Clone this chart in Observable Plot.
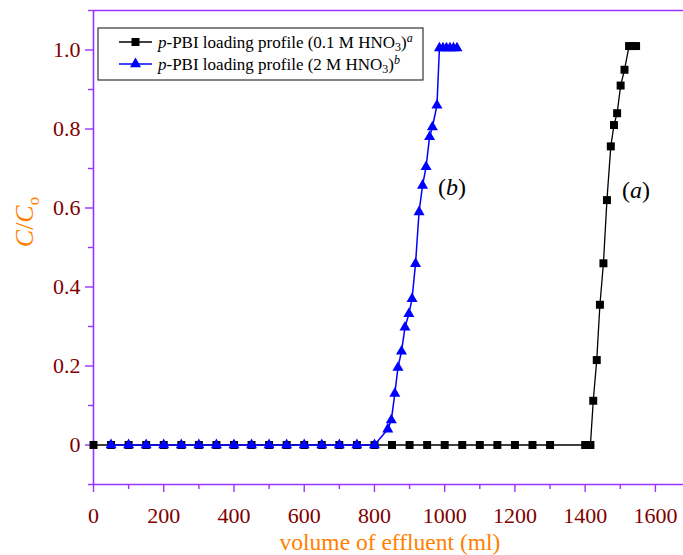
<!DOCTYPE html>
<html>
<head>
<meta charset="utf-8">
<script src="https://cdn.jsdelivr.net/npm/d3@7"></script>
<script src="https://cdn.jsdelivr.net/npm/@observablehq/plot@0.6"></script>
<style>
  body { margin: 0; background: #fff; }
  #chart { position: relative; width: 683px; height: 555px; }
</style>
</head>
<body>
<div id="chart"></div>
<script>
// ---- Data ----
// Series (a): p-PBI loading profile (0.1 M HNO3) – black squares
const seriesA_x = [0, 50, 100, 150, 200, 250, 300, 350, 400, 450, 500, 550, 600, 650, 700, 750, 800,
  850, 900, 950, 1000, 1050, 1100, 1150, 1200, 1250, 1300, 1400, 1415,
  1423, 1433, 1442, 1452, 1462, 1473, 1482, 1491, 1501, 1512, 1525, 1535, 1545];
const seriesA_y = [0, 0, 0, 0, 0, 0, 0, 0, 0, 0, 0, 0, 0, 0, 0, 0, 0,
  0, 0, 0, 0, 0, 0, 0, 0, 0, 0, 0, 0,
  0.112, 0.215, 0.355, 0.46, 0.62, 0.756, 0.81, 0.84, 0.91, 0.95, 1.01, 1.01, 1.01];

// Series (b): p-PBI loading profile (2 M HNO3) – blue triangles
const seriesB_x = [50, 100, 150, 200, 250, 300, 350, 400, 450, 500, 550, 600, 650, 700, 750, 800,
  838, 848, 858, 867, 877, 887, 898, 907, 917, 927, 937, 947, 957, 965, 978,
  985, 995, 1005, 1015, 1025, 1035];
const seriesB_y = [0, 0, 0, 0, 0, 0, 0, 0, 0, 0, 0, 0, 0, 0, 0, 0,
  0.04, 0.063, 0.13, 0.196, 0.237, 0.298, 0.332, 0.37, 0.459, 0.59, 0.657, 0.704, 0.78, 0.805, 0.86,
  1.005, 1.005, 1.005, 1.005, 1.005, 1.005];

const legendLabels = ["0.1 M HNO", "2 M HNO"];
const legendSup = ["a", "b"];
const annotLabels = ["a", "b"];
const annotX = [1546, 1022];
const annotY = [0.645, 0.652];

const xMajorTicks = [0, 200, 400, 600, 800, 1000, 1200, 1400, 1600];
const xMinorTicks = [100, 300, 500, 700, 900, 1100, 1300, 1500];
const yMajorTicks = [0, 0.2, 0.4, 0.6, 0.8, 1.0];
const yMinorTicks = [-0.1, 0.1, 0.3, 0.5, 0.7, 0.9, 1.1];

const xTitle = "volume of effluent (ml)";

// ---- Build tables ----
const dataA = seriesA_x.map((x, i) => ({x, y: seriesA_y[i]}));
const dataB = seriesB_x.map((x, i) => ({x, y: seriesB_y[i]}));

const purple = "#9933ff";
const tickText = "#800000";
const orange = "#ff8000";
const serif = "'Liberation Serif', 'Times New Roman', Times, serif";

const chart = Plot.plot({
  width: 683,
  height: 555,
  marginLeft: 93,
  marginRight: 0,
  marginTop: 10,
  marginBottom: 71,
  x: {domain: [0, 1680]},
  y: {domain: [-0.1, 1.1]},
  style: {fontFamily: serif, background: "#fff", overflow: "visible"},
  marks: [
    // frame
    Plot.ruleX([0], {stroke: purple, strokeWidth: 1.6}),
    Plot.ruleY([-0.1], {stroke: purple, strokeWidth: 1.6}),
    Plot.ruleY([1.1], {stroke: purple, strokeWidth: 1.6}),
    // axes
    Plot.axisY(yMajorTicks, {tickSize: 8, tickPadding: 5, stroke: purple, strokeWidth: 1.4, fill: tickText,
      fontSize: 22, tickFormat: d => d === 0 ? "0" : d.toFixed(1), label: null}),
    Plot.axisY(yMinorTicks, {tickSize: 5, stroke: purple, strokeWidth: 1.4, tickFormat: () => "", label: null}),
    Plot.axisX(xMajorTicks, {tickSize: 8, tickPadding: 15, stroke: purple, strokeWidth: 1.4, fill: tickText,
      fontSize: 22, tickFormat: d => String(d), label: null}),
    Plot.axisX(xMinorTicks, {tickSize: 5, stroke: purple, strokeWidth: 1.4, tickFormat: () => "", label: null}),
    // series a
    Plot.line(dataA, {x: "x", y: "y", stroke: "#000", strokeWidth: 1.3}),
    Plot.dot(dataA, {x: "x", y: "y", symbol: "square", r: 4.5, fill: "#000", stroke: "none"}),
    // series b
    Plot.line(dataB, {x: "x", y: "y", stroke: "#0000ff", strokeWidth: 1.5}),
    Plot.dot(dataB, {x: "x", y: "y", symbol: "triangle", r: 4.1, fill: "#0000ff", stroke: "none"})
  ]
});

document.getElementById("chart").appendChild(chart);

const svg = d3.select(chart);
const sx = chart.scale("x"), sy = chart.scale("y");

// annotations (a), (b)
annotLabels.forEach((lab, i) => {
  svg.append("text")
    .attr("x", sx.apply(annotX[i]))
    .attr("y", sy.apply(annotY[i]))
    .attr("text-anchor", "middle")
    .attr("dominant-baseline", "central")
    .attr("font-family", serif)
    .attr("font-size", 24)
    .attr("fill", "#000")
    .html(`(<tspan font-style="italic">${lab}</tspan>)`);
});

// axis titles
svg.append("text")
  .attr("x", 390).attr("y", 550)
  .attr("text-anchor", "middle")
  .attr("font-family", serif).attr("font-size", 23.5)
  .attr("fill", orange)
  .text(xTitle);

svg.append("text")
  .attr("transform", "translate(33,222) rotate(-90)")
  .attr("text-anchor", "middle")
  .attr("font-family", serif).attr("font-size", 26)
  .attr("fill", orange)
  .html(`<tspan font-style="italic">C</tspan>/<tspan font-style="italic">C</tspan><tspan dy="6" font-size="17">o</tspan>`);

// legend
const lg = svg.append("g").attr("font-family", serif).attr("font-size", 17).attr("text-anchor", "start");
lg.append("rect").attr("x", 98).attr("y", 28).attr("width", 325).attr("height", 52)
  .attr("fill", "#fff").attr("stroke", "#333").attr("stroke-width", 1.2);
const rows = [
  {color: "#000", sym: d3.symbolSquare, size: Math.PI * 4.5 * 4.5, w: 1.3},
  {color: "#0000ff", sym: d3.symbolTriangle, size: Math.PI * 4.1 * 4.1, w: 1.5}
];
rows.forEach((r, i) => {
  const cy = 42 + i * 22;
  lg.append("line").attr("x1", 119).attr("x2", 152).attr("y1", cy).attr("y2", cy)
    .attr("stroke", r.color).attr("stroke-width", r.w);
  lg.append("path").attr("d", d3.symbol(r.sym, r.size)()).attr("transform", `translate(135.5,${cy})`)
    .attr("fill", r.color);
  lg.append("text").attr("x", 158).attr("y", cy + 6).attr("fill", "#000").attr("text-anchor", "start")
    .html(`<tspan font-style="italic">p</tspan>-PBI loading profile (${legendLabels[i]}<tspan dy="3" font-size="12">3</tspan><tspan dy="-3">)</tspan><tspan dy="-6" font-size="12" font-style="italic">${legendSup[i]}</tspan>`);
});
</script>
</body>
</html>
